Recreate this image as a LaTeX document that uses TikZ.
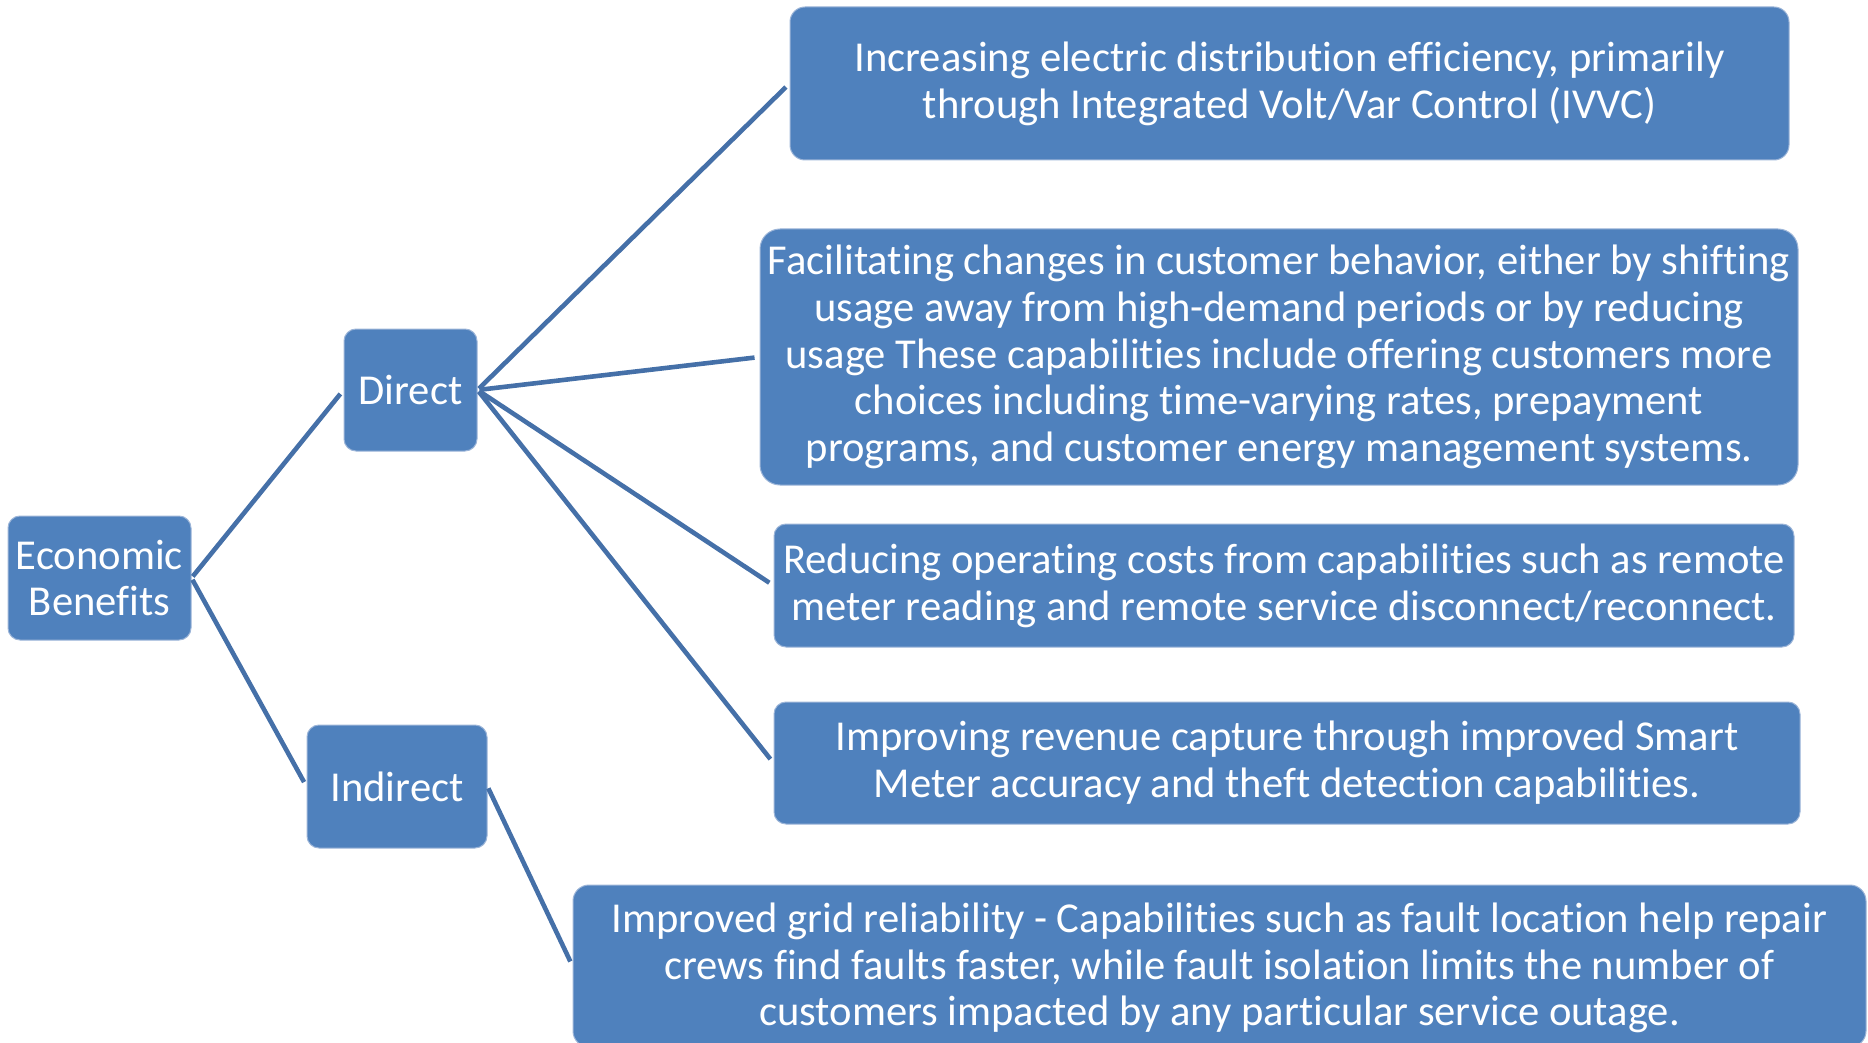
\documentclass[tikz,border=0pt]{standalone}
\usepackage{fontspec}
\setmainfont[Ligatures={NoCommon}]{Carlito}
\definecolor{boxblue}{HTML}{4F81BD}
\definecolor{boxedge}{HTML}{9CB5D8}
\definecolor{linkblue}{HTML}{4570A8}
\newcommand{\boxfont}{\fontsize{21.3pt}{23.4pt}\selectfont}
\tikzset{
  box/.style={rectangle, fill=boxblue, draw=boxedge, line width=0.5pt,
    text=white, font=\boxfont, align=center, inner sep=0pt},
  boxtext/.style={text=white, font=\boxfont, align=center, inner sep=0pt},
  link/.style={draw=linkblue, line width=2.3pt, shorten >=2.5pt, shorten <=1pt}
}
\begin{document}
\begin{tikzpicture}[x=0.5pt,y=-0.5pt]
\useasboundingbox (0,0) rectangle (1868,1043);
\clip (0,0) rectangle (1868,1043);

% root and branches
\node[box, rounded corners=6pt, minimum width=91.5pt, minimum height=62pt]
  (eb) at (99.5,578) {Economic\\Benefits};
\node[box, rounded corners=6pt, minimum width=66.5pt, minimum height=61pt]
  (direct) at (410.5,390) {Direct};
\node[box, rounded corners=6pt, minimum width=90pt, minimum height=61.5pt]
  (indirect) at (397,786.5) {Indirect};

% direct benefits
\node[box, rounded corners=7.5pt, minimum width=499.5pt, minimum height=76.5pt]
  (d1) at (1289.5,83.5) {Increasing electric distribution efficiency, primarily\\
  through Integrated Volt/Var Control (IVVC)};
\node[box, rounded corners=10pt, minimum width=519pt, minimum height=128pt]
  (d2) at (1279,357) {Facilitating changes in customer behavior, either by shifting\\
  usage away from high-demand periods or by reducing\\
  usage These capabilities include offering customers more\\
  choices including time-varying rates, prepayment\\
  programs, and customer energy management systems.};
\node[box, rounded corners=6pt, minimum width=510pt, minimum height=61.5pt]
  (d3) at (1284,585.5) {Reducing operating costs from capabilities such as remote\\
  meter reading and remote service disconnect/reconnect.};
\node[box, rounded corners=6pt, minimum width=513pt, minimum height=61pt]
  (d4) at (1287,763) {Improving revenue capture through improved Smart\\
  Meter accuracy and theft detection capabilities.};

% indirect benefit
\node[box, rounded corners=8pt, minimum width=646.5pt, minimum height=81pt]
  (i1) at (1219.5,966) {};
\node[boxtext] (i1text) at (1219.5,968) {Improved grid reliability - Capabilities such as fault location help repair\\
  crews find faults faster, while fault isolation limits the number of\\
  customers impacted by any particular service outage.};

% connectors
\draw[link] (eb.east) -- (direct.west);
\draw[link] (eb.east) -- (indirect.west);
\draw[link] (direct.east) -- (d1.west);
\draw[link] (direct.east) -- (d2.west);
\draw[link] (direct.east) -- (d3.west);
\draw[link] (direct.east) -- (d4.west);
\draw[link] (indirect.east) -- (i1.west);
\end{tikzpicture}
\end{document}
